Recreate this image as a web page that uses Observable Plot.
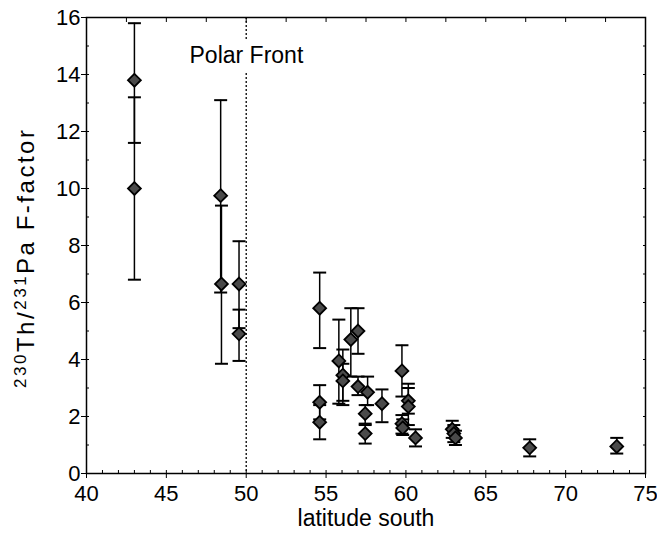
<!DOCTYPE html>
<html><head><meta charset="utf-8">
<script src="https://cdn.jsdelivr.net/npm/d3@7"></script>
<script src="https://cdn.jsdelivr.net/npm/@observablehq/plot@0.6"></script>
<style>body{margin:0;background:#fff} svg{font-family:"Liberation Sans",Arial,sans-serif}</style>
</head><body><div id="chart"></div>
<script>
const latitude = [43.0, 43.0, 48.4, 48.45, 49.55, 49.55, 54.6, 54.6, 54.6, 55.8, 56.05, 56.05, 56.55, 57.0, 57.0, 57.6, 57.45, 57.45, 58.5, 59.75, 60.15, 60.15, 59.75, 59.8, 60.6, 62.9, 63.0, 63.1, 67.75, 73.2];
const fFactor  = [13.8, 10.0, 9.75, 6.65, 6.65, 4.9, 5.8, 2.5, 1.8, 3.95, 3.45, 3.25, 4.7, 5.0, 3.05, 2.85, 2.1, 1.4, 2.45, 3.6, 2.55, 2.35, 1.75, 1.6, 1.25, 1.55, 1.4, 1.25, 0.9, 0.95];
const errLow   = [11.6, 6.8, 6.35, 3.85, 5.1, 3.95, 4.4, 1.9, 1.2, 2.45, 2.55, 2.4, 3.4, 4.2, 2.75, 2.4, 1.75, 1.05, 1.8, 2.7, 2.1, 1.7, 1.4, 1.35, 0.95, 1.25, 1.1, 1.0, 0.6, 0.7];
const errHigh  = [15.8, 13.2, 13.1, 9.4, 8.15, 5.75, 7.05, 3.1, 2.4, 5.4, 4.35, 3.85, 5.8, 5.8, 3.4, 3.4, 2.4, 1.7, 2.95, 4.5, 3.15, 3.0, 2.05, 1.9, 1.55, 1.85, 1.7, 1.5, 1.2, 1.25];
const xTicks = [40, 45, 50, 55, 60, 65, 70, 75];
const yTicks = [0, 2, 4, 6, 8, 10, 12, 14, 16];
const frontLatitude = [50];
const annotation = [{text: "Polar Front", x: 46.45, y: 14.65}];

const data = latitude.map((x, i) => ({x, y: fFactor[i], lo: errLow[i], hi: errHigh[i]}));

const capSymbol = {draw(ctx, size) { const w = Math.sqrt(size / Math.PI); ctx.moveTo(-w, 0); ctx.lineTo(w, 0); }};

const chart = Plot.plot({
  width: 657, height: 536,
  marginLeft: 86, marginRight: 12, marginTop: 17, marginBottom: 63,
  style: {fontSize: "22px", fontFamily: "Liberation Sans, Arial, sans-serif", color: "#000", background: "#fff"},
  x: {domain: [40, 75]},
  y: {domain: [0, 16]},
  marks: [
    Plot.frame({stroke: "#000", strokeWidth: 1.5}),
    Plot.axisX({ticks: d3.range(40, 76, 1), tickSize: -3, text: null, label: null}),
    Plot.axisX({ticks: xTicks, tickSize: 5, tickPadding: 7, tickFormat: d => d, fontSize: 22, label: null}),
    Plot.axisX({anchor: "top", ticks: d3.range(40, 76, 2.5), tickSize: -4, text: null, label: null}),
    Plot.axisY({ticks: d3.range(0, 17, 1), tickSize: -3, text: null, label: null}),
    Plot.axisY({ticks: yTicks, tickSize: 5, tickPadding: 1, tickFormat: d => d, fontSize: 22, label: null}),
    Plot.axisY({anchor: "right", ticks: d3.range(0, 17, 1), tickSize: -3, text: null, label: null}),
    Plot.ruleX(frontLatitude, {stroke: "#000", strokeWidth: 1.3, strokeDasharray: "2,2"}),
    Plot.ruleX(data, {x: "x", y1: "lo", y2: "hi", stroke: "#000", strokeWidth: 1.5}),
    Plot.dot(data, {x: "x", y: "lo", symbol: capSymbol, r: 6.5, stroke: "#000", strokeWidth: 2}),
    Plot.dot(data, {x: "x", y: "hi", symbol: capSymbol, r: 6.5, stroke: "#000", strokeWidth: 2}),
    Plot.dot(data, {x: "x", y: "y", symbol: "diamond2", r: 5.8, fill: "#4a4a4a", stroke: "#000", strokeWidth: 1.8}),
    Plot.text(annotation, {x: "x", y: "y", text: "text", textAnchor: "start", fontSize: 23, fill: "#000"})
  ]
});

const svg = d3.select(chart);
svg.append("text")
  .attr("x", 366).attr("y", 526)
  .attr("text-anchor", "middle").attr("font-size", 23).attr("fill", "#000")
  .text("latitude south");
const yl = svg.append("text")
  .attr("transform", "translate(34,259) rotate(-90)")
  .attr("text-anchor", "middle").attr("font-size", 24).attr("fill", "#000")
  .attr("textLength", 258).attr("lengthAdjust", "spacing");
yl.append("tspan").attr("font-size", 17).attr("dy", -8).text("230");
yl.append("tspan").attr("dy", 8).text("Th/");
yl.append("tspan").attr("font-size", 17).attr("dy", -8).text("231");
yl.append("tspan").attr("dy", 8).text("Pa F-factor");

document.getElementById("chart").appendChild(chart);

// white background behind the "Polar Front" label, hiding the dotted line there
svg.selectAll("text").filter(function() { return this.textContent === "Polar Front"; }).each(function() {
  const b = this.getBBox();
  const ctm = this.getAttribute("transform");
  const r = document.createElementNS("http://www.w3.org/2000/svg", "rect");
  r.setAttribute("x", b.x - 2); r.setAttribute("y", b.y - 3);
  r.setAttribute("width", b.width + 4); r.setAttribute("height", b.height + 6);
  r.setAttribute("fill", "#fff");
  if (ctm) r.setAttribute("transform", ctm);
  this.parentNode.insertBefore(r, this);
});
</script>
</body></html>
